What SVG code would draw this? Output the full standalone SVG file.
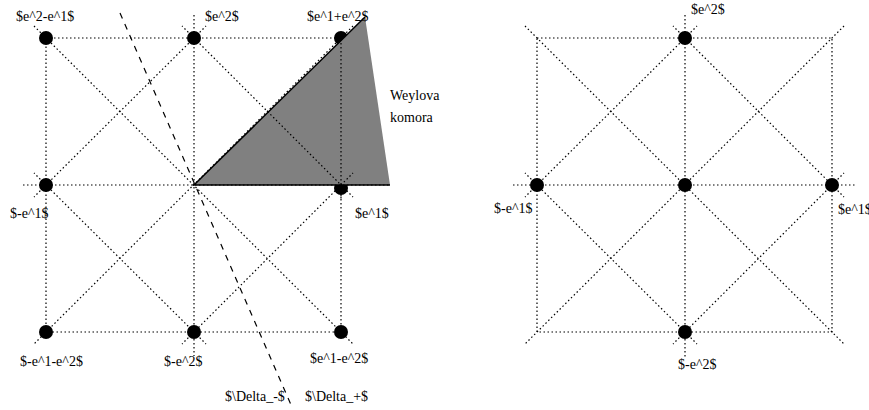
<svg xmlns="http://www.w3.org/2000/svg" width="869" height="410" viewBox="0 0 869 410">
<style>
.dot{fill:#000}
.dl{stroke:#000;stroke-width:1.2;stroke-dasharray:1.5,2.5;fill:none}
.dash{stroke:#000;stroke-width:1.2;stroke-dasharray:6,6;fill:none}
.solid{stroke:#000;stroke-width:1.5;fill:none}
.lbl{font-family:'Liberation Serif','Times New Roman','DejaVu Serif',serif;font-size:14px;fill:#000}
</style>
<rect width="869" height="410" fill="#fff"/>
<g id="left-dots">
<circle class="dot" cx="46" cy="38" r="7"/>
<circle class="dot" cx="194" cy="38" r="7"/>
<circle class="dot" cx="341" cy="38" r="7"/>
<circle class="dot" cx="46" cy="185" r="7"/>
<circle class="dot" cx="341" cy="188" r="7"/>
<circle class="dot" cx="46" cy="332" r="7"/>
<circle class="dot" cx="194" cy="332" r="7"/>
<circle class="dot" cx="341" cy="332" r="7"/>
</g>
<g id="weyl-chamber">
<polygon points="194,185 365,17 390,185" fill="#808080"/>
<polyline class="solid" points="365,17 194,185 390,185"/>
</g>
<g id="left-connectors">
<rect class="dl" x="46" y="38" width="295" height="294"/>
<line class="dl" x1="23" y1="185" x2="390" y2="185"/>
<line class="dl" x1="194" y1="15" x2="194" y2="356"/>
<line class="dl" x1="34" y1="26" x2="353" y2="344"/>
<line class="dl" x1="353" y1="26" x2="34" y2="344"/>
<polygon class="dl" points="194,38 341,185 194,332 46,185"/>
<line class="dl" x1="194" y1="38" x2="206" y2="26"/>
<line class="dl" x1="194" y1="38" x2="182" y2="26"/>
<line class="dl" x1="46" y1="185" x2="34" y2="173"/>
<line class="dl" x1="46" y1="185" x2="34" y2="197"/>
<line class="dl" x1="341" y1="185" x2="353" y2="197"/>
<line class="dl" x1="341" y1="185" x2="353" y2="173"/>
<line class="dl" x1="194" y1="332" x2="182" y2="344"/>
<line class="dl" x1="194" y1="332" x2="206" y2="344"/>
<line class="dl" x1="341" y1="185" x2="341" y2="200"/>
<line class="dash" x1="120" y1="13" x2="292" y2="407"/>
</g>
<g id="left-labels" font-family="Liberation Serif, Times New Roman, DejaVu Serif, serif" font-size="14">
<text class="lbl" x="16" y="21">$e^2-e^1$</text>
<text class="lbl" x="205" y="21">$e^2$</text>
<text class="lbl" x="307" y="21">$e^1+e^2$</text>
<text class="lbl" x="390" y="100">Weylova</text>
<text class="lbl" x="390" y="122">komora</text>
<text class="lbl" x="10" y="218">$-e^1$</text>
<text class="lbl" x="355" y="218">$e^1$</text>
<text class="lbl" x="20" y="366">$-e^1-e^2$</text>
<text class="lbl" x="164" y="366">$-e^2$</text>
<text class="lbl" x="310" y="363">$e^1-e^2$</text>
<text class="lbl" x="225" y="401">$\Delta_-$</text>
<text class="lbl" x="305" y="401">$\Delta_+$</text>
</g>
<g id="right-dots">
<circle class="dot" cx="685" cy="38" r="7"/>
<circle class="dot" cx="537" cy="185" r="7"/>
<circle class="dot" cx="685" cy="185" r="7"/>
<circle class="dot" cx="832" cy="185" r="7"/>
<circle class="dot" cx="685" cy="332" r="7"/>
</g>
<g id="right-connectors">
<rect class="dl" x="537" y="38" width="295" height="294"/>
<line class="dl" x1="513" y1="185" x2="856" y2="185"/>
<line class="dl" x1="685" y1="15" x2="685" y2="358"/>
<line class="dl" x1="525" y1="26" x2="844" y2="344"/>
<line class="dl" x1="844" y1="26" x2="525" y2="344"/>
<polygon class="dl" points="685,38 832,185 685,332 537,185"/>
<line class="dl" x1="685" y1="38" x2="697" y2="26"/>
<line class="dl" x1="685" y1="38" x2="673" y2="26"/>
<line class="dl" x1="537" y1="185" x2="525" y2="173"/>
<line class="dl" x1="537" y1="185" x2="525" y2="197"/>
<line class="dl" x1="832" y1="185" x2="844" y2="197"/>
<line class="dl" x1="832" y1="185" x2="844" y2="173"/>
<line class="dl" x1="685" y1="332" x2="673" y2="344"/>
<line class="dl" x1="685" y1="332" x2="697" y2="344"/>
</g>
<g id="right-labels" font-family="Liberation Serif, Times New Roman, DejaVu Serif, serif" font-size="14">
<text class="lbl" x="691" y="14">$e^2$</text>
<text class="lbl" x="494" y="213">$-e^1$</text>
<text class="lbl" x="838" y="214">$e^1$</text>
<text class="lbl" x="678" y="369">$-e^2$</text>
</g>
</svg>
